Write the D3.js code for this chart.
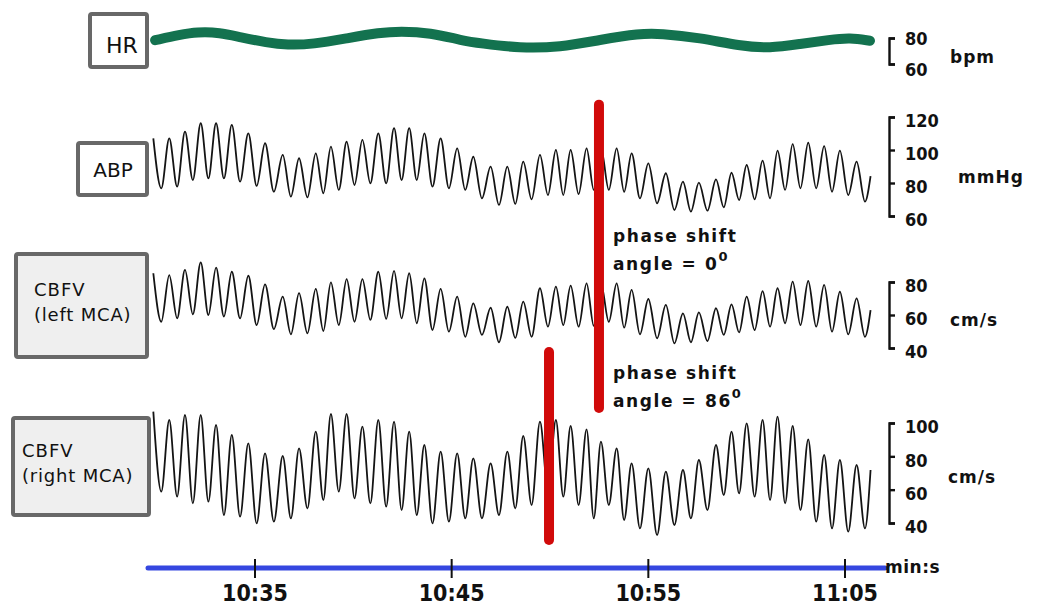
<!DOCTYPE html>
<html><head><meta charset="utf-8">
<script src="https://cdn.jsdelivr.net/npm/d3@7"></script>
<style>
html,body{margin:0;padding:0;background:#fff;}
svg{display:block;}
</style></head>
<body>
<script>
// ---------------- DATA ----------------
const timeTicks = [635, 645, 655, 665];
const timeTickLabels = ["10:35", "10:45", "10:55", "11:05"];
const endTime = 666.3;

const hrTicks = [80, 60];
const abpTicks = [120, 100, 80, 60];
const lmcaTicks = [80, 60, 40];
const rmcaTicks = [100, 80, 60, 40];

const hrTimes = [629.92,631.19,632.05,633.22,634.24,635.61,636.63,637.95,639.68,641.35,642.37,643.90,645.57,646.44,648.47,650.51,652.54,654.57,655.59,657.62,659.66,661.18,662.71,664.23,665.25,666.27];
const hrValues = [78.3,82.5,84.6,84.2,80.6,76.5,74.6,75.2,79.8,84.2,85.2,84.2,77.9,76,72.1,72.9,78.6,83.5,83.5,80.2,73.8,72.1,75.4,78.6,80.2,77.9];

const beatTimes = [629.83,630.64,631.44,632.24,633.02,633.82,634.66,635.51,636.41,637.24,638.09,638.86,639.66,640.46,641.27,642.07,642.84,643.61,644.44,645.28,646.10,646.98,647.83,648.64,649.49,650.30,651.05,651.86,652.59,653.39,654.15,655.00,655.89,656.76,657.57,658.44,659.23,660.00,660.81,661.57,662.34,663.13,663.94,664.74,665.59];

const abpSys = [107.1,107.1,111.1,116.2,116.2,115.2,110.1,104.1,97,95,98,102,105,106.1,110.1,113.2,113.2,110.1,107.1,101,95.9,89.9,89.9,92.9,97,100,100,101,101.2,101,98,91.9,85.9,80.8,80.2,82.2,86.2,90.9,93.5,99.6,103.6,104.4,102.4,99.6,92.9];
const abpDia = [76.8,77.8,81.8,82.8,82.8,80.8,78.2,74.7,71.7,71.3,73.8,75.8,78.8,79.8,79.8,81.8,81.8,77.8,76.8,75.8,70.7,66.7,67.3,70.1,72.7,72.7,73.3,75.8,75.8,74.7,70.7,67.7,63.6,62.6,63.2,65.3,69.7,70.1,70.7,75.8,76.8,76.8,74.7,72.7,68.7];
const abpEnd = 84.2;

const lmcaSys = [85.3,84.2,87.3,91.9,88.7,86.2,83.8,78.6,71.1,73.2,75.8,79.8,81.8,81.8,86.2,86.7,85.3,82.2,75.8,71.1,67.1,64.4,65,68.1,76.2,77.2,77.8,79.2,79.2,79.2,75.2,69.7,66.1,61,61.6,64.1,66.5,71.1,74.5,76.2,80.2,80.6,78.2,74.1,70.1];
const lmcaDia = [55.9,58,60.4,60,59,58,53.9,51.5,48.3,48.9,50.3,53.9,55.9,57,57.6,58,55,50.9,49.9,46.8,47.9,43.5,46.1,46.8,52.9,53.9,52.9,53.5,55.9,52.3,48.3,45.9,42.8,43.5,44.2,47.9,49.5,50.9,52.9,55,53.9,52.9,49.9,48.3,46.8];
const lmcaEnd = 63;

const rmcaSys = [106.8,101.8,104.8,104.8,98.8,92.8,87.8,81.8,80.2,84.8,94.8,105.4,105.4,97.8,101.8,100.8,94.8,86.8,82.8,81.8,78.8,75.8,82.8,92.2,100.8,101.8,98.2,96.2,88.8,84.8,75.8,72.8,70.8,71.8,77.8,86.8,94.8,99.8,101.8,103.8,98.2,90.2,80.8,77.8,74.8];
const rmcaDia = [58.8,55.8,51.8,52.8,44.8,43.8,39.8,40.8,42.8,48.8,53.8,58.8,54.8,51.8,49.8,47.8,44.8,39.8,40.8,42.8,42.8,44.8,48.8,50.8,59.8,55.8,50.8,42.8,50.8,41.8,36.8,32.8,38.8,42.8,47.8,56.8,57.8,55.8,53.8,51.8,47.8,40.8,36.8,34.8,36.8];
const rmcaEnd = 71.8;

// phase markers
const markerTimes = [652.49, 649.95];
const markerLabels = [["phase shift", "angle = 0", "0"], ["phase shift", "angle = 86", "0"]];

// ---------------- SCALES ----------------
const W = 1039, H = 608;
const svg = d3.select("body").append("svg").attr("width", W).attr("height", H);

const x = d3.scaleLinear().domain([635, 665]).range([255, 845]);
const hrY = d3.scaleLinear().domain([60, 80]).range([64, 38]);
const abpY = d3.scaleLinear().domain([60, 120]).range([216, 117]);
const lmcaY = d3.scaleLinear().domain([40, 80]).range([348, 282]);
const rmcaY = d3.scaleLinear().domain([40, 100]).range([523, 423]);

// ---------------- LABEL BOXES ----------------
const boxStroke = "#686868";
function box(x0, y0, w, h, fill) {
  svg.append("rect").attr("x", x0).attr("y", y0).attr("width", w).attr("height", h)
    .attr("rx", 2).attr("fill", fill).attr("stroke", boxStroke).attr("stroke-width", 4);
}
box(90, 14, 57, 53, "#fff");
box(78, 143, 69, 52, "#fff");
box(16, 254, 131, 103, "#efefef");
box(13, 418, 136, 97, "#efefef");

const boxFont = "'DejaVu Sans', sans-serif";
function boxText(tx, ty, s, anchor, size, ls) {
  svg.append("text").attr("x", tx).attr("y", ty).attr("text-anchor", anchor)
    .attr("font-family", boxFont).attr("font-size", size).attr("letter-spacing", ls)
    .attr("fill", "#111").text(s);
}
boxText(122, 53, "HR", "middle", 22, 0);
boxText(113, 177, "ABP", "middle", 20, 0);
boxText(34, 296, "CBFV", "start", 18, 1);
boxText(34, 321, "(left MCA)", "start", 18, 0.8);
boxText(22, 457, "CBFV", "start", 18, 1);
boxText(22, 482, "(right MCA)", "start", 18, 0.8);

// ---------------- HR LINE ----------------
svg.append("path")
  .datum(hrTimes.map((t, i) => [t, hrValues[i]]))
  .attr("fill", "none").attr("stroke", "#13724f").attr("stroke-width", 10)
  .attr("stroke-linecap", "round").attr("stroke-linejoin", "round")
  .attr("d", d3.line().x(d => x(d[0])).y(d => hrY(d[1])).curve(d3.curveBasis));

// ---------------- WAVEFORMS ----------------
function wavePoints(sys, dia, endVal) {
  const pts = [];
  beatTimes.forEach((t, i) => {
    pts.push([t, sys[i]]);
    const nxt = i < beatTimes.length - 1 ? beatTimes[i + 1] : t + (t - beatTimes[i - 1]);
    pts.push([(t + nxt) / 2, dia[i]]);
  });
  pts.push([endTime, endVal]);
  return pts;
}
function drawWave(sys, dia, endVal, yS) {
  svg.append("path")
    .datum(wavePoints(sys, dia, endVal))
    .attr("fill", "none").attr("stroke", "#141414").attr("stroke-width", 1.8)
    .attr("stroke-linejoin", "round")
    .attr("d", d3.line().x(d => x(d[0])).y(d => yS(d[1])).curve(d3.curveMonotoneX));
}
drawWave(abpSys, abpDia, abpEnd, abpY);
drawWave(lmcaSys, lmcaDia, lmcaEnd, lmcaY);
drawWave(rmcaSys, rmcaDia, rmcaEnd, rmcaY);

// ---------------- RIGHT AXES ----------------
const axFont = "'DejaVu Sans Condensed', 'DejaVu Sans', sans-serif";
function rightAxis(scale, ticks, dyFn) {
  const g = svg.append("g").attr("transform", "translate(889,0)")
    .call(d3.axisRight(scale).tickValues(ticks).tickSize(6).tickSizeOuter(6).tickPadding(10));
  g.select(".domain").attr("stroke", "#111").attr("stroke-width", 2.4).attr("fill", "none");
  g.selectAll(".tick line").attr("stroke", "#111").attr("stroke-width", 2.4);
  g.selectAll(".tick text").attr("font-family", axFont).attr("font-weight", "bold")
    .attr("font-size", 18).attr("fill", "#111").attr("y", dyFn);
  return g;
}
rightAxis(hrY, hrTicks, d => d === 80 ? 1 : 6);
rightAxis(abpY, abpTicks, () => 4);
rightAxis(lmcaY, lmcaTicks, () => 4);
rightAxis(rmcaY, rmcaTicks, () => 4);

const unitFont = "'DejaVu Sans', sans-serif";
function unit(tx, ty, s) {
  svg.append("text").attr("x", tx).attr("y", ty).attr("font-family", unitFont)
    .attr("font-weight", "bold").attr("font-size", 17).attr("letter-spacing", 1)
    .attr("fill", "#111").attr("dominant-baseline", "middle").text(s);
}
unit(950, 58, "bpm");
unit(958, 178, "mmHg");
unit(950, 321, "cm/s");
unit(948, 478, "cm/s");

// ---------------- PHASE MARKERS ----------------
const red = "#d10a0a";
const markerSpans = [[abpY(127.5), rmcaY(109)], [lmcaY(37.6), rmcaY(29.8)]];
markerTimes.forEach((t, i) => {
  svg.append("line").attr("x1", x(t)).attr("x2", x(t))
    .attr("y1", markerSpans[i][0]).attr("y2", markerSpans[i][1])
    .attr("stroke", red).attr("stroke-width", 10).attr("stroke-linecap", "round");
});

const annFont = "'DejaVu Sans', sans-serif";
const annPos = [[613, 242], [613, 379]];
markerLabels.forEach((lab, i) => {
  const [ax, ay] = annPos[i];
  svg.append("text").attr("x", ax).attr("y", ay).attr("font-family", annFont)
    .attr("font-weight", "bold").attr("font-size", 17).attr("letter-spacing", 1.6)
    .attr("fill", "#111").text(lab[0]);
  const t2 = svg.append("text").attr("x", ax).attr("y", ay + 28).attr("font-family", annFont)
    .attr("font-weight", "bold").attr("font-size", 17).attr("letter-spacing", 1.6)
    .attr("fill", "#111");
  t2.append("tspan").text(lab[1]);
  t2.append("tspan").attr("dy", -9).attr("font-size", 13).text(lab[2]);
});

// ---------------- TIME AXIS ----------------
svg.append("line").attr("x1", 148).attr("x2", 885)
  .attr("y1", 568).attr("y2", 568)
  .attr("stroke", "#3547e0").attr("stroke-width", 5).attr("stroke-linecap", "round");

const tg = svg.append("g");
tg.selectAll("line.tk").data(timeTicks).join("line").attr("class", "tk")
  .attr("x1", d => x(d)).attr("x2", d => x(d)).attr("y1", 559).attr("y2", 578)
  .attr("stroke", "#111").attr("stroke-width", 2);
tg.selectAll("text").data(timeTicks).join("text")
  .attr("x", d => x(d)).attr("y", 601).attr("text-anchor", "middle")
  .attr("font-family", "'Liberation Sans Narrow', 'DejaVu Sans Condensed', sans-serif")
  .attr("font-weight", "bold").attr("font-size", 23).attr("fill", "#111")
  .text((d, i) => timeTickLabels[i]);

svg.append("text").attr("x", 885).attr("y", 568).attr("dominant-baseline", "middle")
  .attr("font-family", unitFont).attr("font-weight", "bold").attr("font-size", 17)
  .attr("letter-spacing", 0.5).attr("fill", "#111").text("min:s");
</script>
</body></html>
